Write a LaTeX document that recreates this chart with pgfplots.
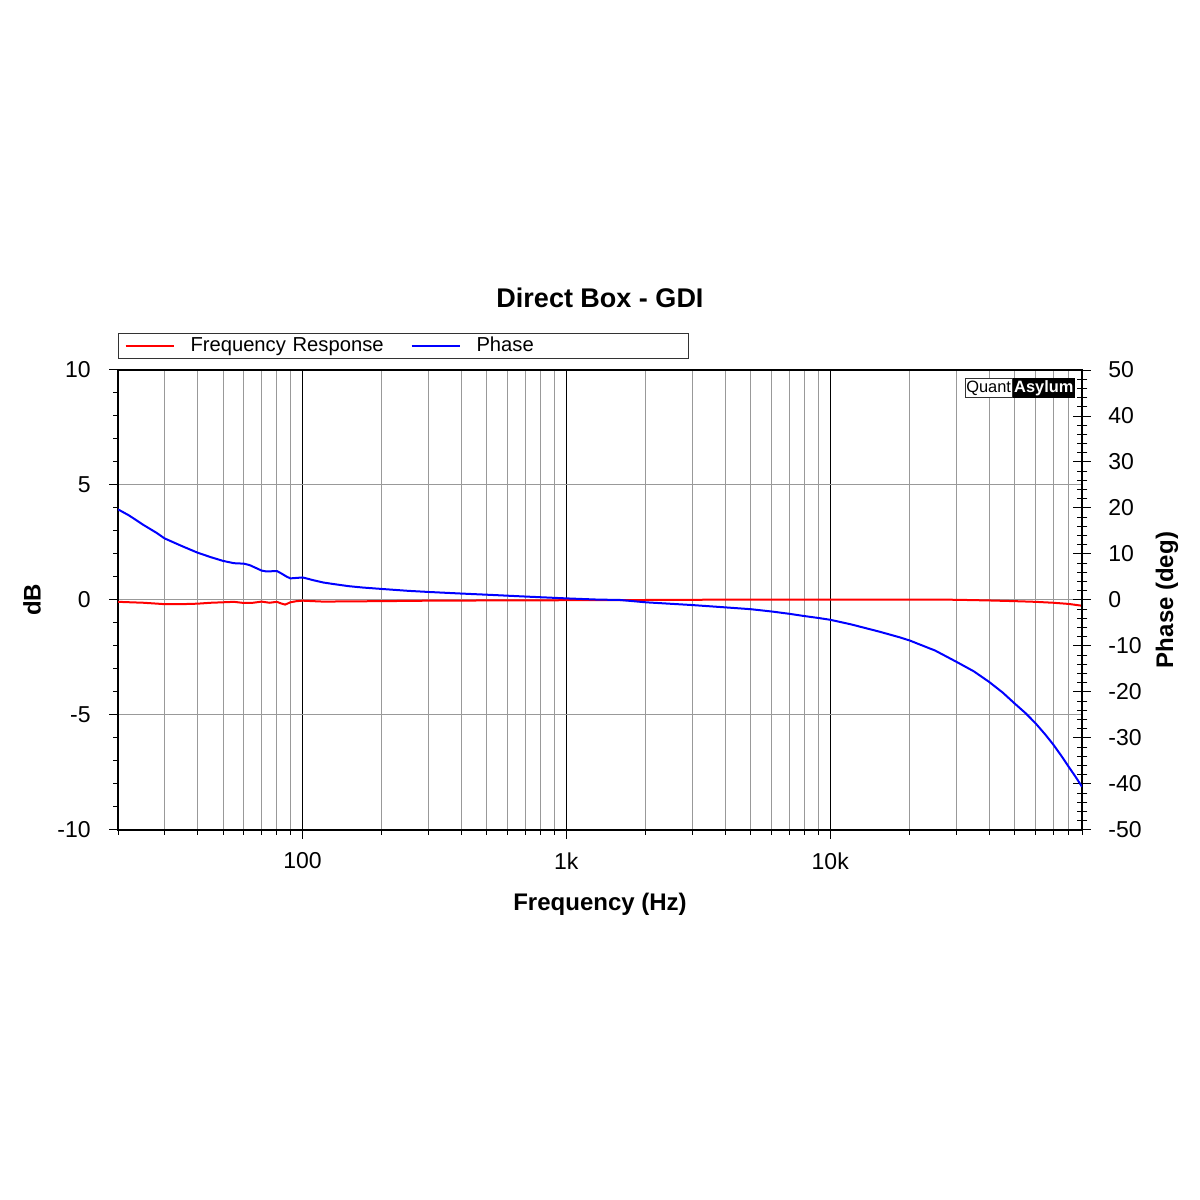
\documentclass[border=0pt]{standalone}
\usepackage{pgfplots}
\pgfplotsset{compat=1.18}
\usepackage{fontspec}
\setmainfont{Liberation Sans}
\begin{document}
\begin{tikzpicture}
\path[use as bounding box] (0,0) rectangle (600pt,600pt);
\begin{axis}[
  at={(59pt,185pt)}, anchor=south west,
  scale only axis, width=482pt, height=230pt,
  xmode=log, xmin=20, xmax=90000,
  ymin=-10, ymax=10,
  xtick={100,1000,10000}, xticklabels={100,1k,10k},
  minor xtick={20,30,40,50,60,70,80,90,200,300,400,500,600,700,800,900,2000,3000,4000,5000,6000,7000,8000,9000,20000,30000,40000,50000,60000,70000,80000,90000},
  ytick={-10,-5,0,5,10},
  minor ytick={-9,-8,-7,-6,-4,-3,-2,-1,1,2,3,4,6,7,8,9},
  xmajorgrids, xminorgrids, ymajorgrids,
  major x grid style={black, line width=0.5pt},
  minor x grid style={black!40, line width=0.5pt},
  major y grid style={black!40, line width=0.5pt},
  xtick pos=lower, ytick pos=left,
  tick align=outside,
  major tick length=4.5pt, minor tick length=2.5pt,
  every tick/.style={black, line width=0.5pt},
  axis line style={line width=0.7pt},
  tick label style={font=\fontsize{11.5}{13}\selectfont},
  /pgf/number format/assume math mode=true,
  yticklabel style={inner xsep=0pt, xshift=-9pt},
  xticklabel style={inner ysep=0pt, yshift=-6.5pt},
  xlabel={Frequency (Hz)}, ylabel={dB},
  label style={font=\fontsize{12}{14}\selectfont\bfseries},
  xlabel style={at={(rel axis cs:0.5,-0.161)}, anchor=center},
  ylabel style={at={(rel axis cs:-0.0892,0.5)}, anchor=center},
  title={Direct Box - GDI},
  title style={at={(rel axis cs:0.5,1.1304)}, anchor=center, font=\fontsize{13.5}{16}\selectfont\bfseries},
]
\addplot[red, line width=1pt] table {
f db
20 -0.08
25 -0.12
30 -0.18
35 -0.18
40 -0.16
45 -0.12
50 -0.10
55 -0.08
60 -0.13
65 -0.12
70 -0.07
75 -0.12
80 -0.08
83 -0.15
86 -0.20
90 -0.10
95 -0.05
100 -0.03
120 -0.07
150 -0.06
200 -0.05
300 -0.03
500 -0.02
1000 -0.01
2000 0.00
5000 0.02
10000 0.02
20000 0.02
30000 0.01
40000 -0.02
50000 -0.05
60000 -0.08
70000 -0.12
80000 -0.17
90000 -0.25
};
\end{axis}
\begin{axis}[
  at={(59pt,185pt)}, anchor=south west,
  scale only axis, width=482pt, height=230pt,
  xmode=log, xmin=20, xmax=90000,
  ymin=-50, ymax=50,
  hide x axis,
  axis y line*=right,
  axis line style={line width=0.7pt},
  ytick={-50,-40,-30,-20,-10,0,10,20,30,40,50},
  minor ytick={-48,-46,-44,-42,-38,-36,-34,-32,-28,-26,-24,-22,-18,-16,-14,-12,-8,-6,-4,-2,2,4,6,8,12,14,16,18,22,24,26,28,32,34,36,38,42,44,46,48},
  tick align=center, major tick length=9pt, minor tick length=5.5pt,
  every tick/.style={black, line width=0.5pt},
  tick label style={font=\fontsize{11.5}{13}\selectfont},
  /pgf/number format/assume math mode=true,
  yticklabel style={inner xsep=0pt, xshift=8.5pt},
  ylabel={Phase (deg)},
  ylabel style={at={(rel axis cs:1.0882,0.5)}, anchor=center, font=\fontsize{12}{14}\selectfont\bfseries},
  legend columns=2,
  legend cell align=left,
  legend image code/.code={\draw[#1] (0pt,0pt) -- (24pt,0pt);},
  legend style={at={(rel axis cs:0,1)}, anchor=south west, yshift=5.5pt, draw=black!80, line width=0.5pt,
    inner xsep=3pt, inner ysep=1.5pt, font=\fontsize{10.1}{12}\selectfont,
    nodes={inner xsep=0pt, inner ysep=0pt, text width=103pt, text height=7.5pt, text depth=2pt, align=left},
    /tikz/every odd column/.append style={column sep=8pt},
    /tikz/every even column/.append style={column sep=7pt}},
]
\addlegendimage{red, line width=1pt}
\addlegendentry{Frequency Response}
\addplot[blue, line width=1pt] table {
f ph
20 19.7
22 18.4
25 16.3
28 14.6
30 13.4
35 11.7
40 10.3
45 9.3
50 8.5
55 8.0
60 7.9
63 7.6
67 6.9
70 6.4
73 6.2
80 6.3
83 5.8
87 5.1
90 4.7
95 4.8
100 4.9
105 4.6
110 4.3
120 3.8
130 3.5
150 3.0
170 2.7
200 2.4
250 2.0
300 1.75
400 1.4
500 1.15
700 0.75
1000 0.35
1300 0.1
1600 0.0
2000 -0.5
3000 -1.1
4000 -1.6
5000 -2.0
6000 -2.5
7000 -3.0
8000 -3.5
9000 -3.9
10000 -4.3
12000 -5.3
15400 -6.9
18300 -8.1
20000 -8.8
25000 -11.0
30000 -13.4
35000 -15.5
40000 -17.8
45000 -20.1
50000 -22.5
55000 -24.6
60000 -26.8
65000 -29.1
70000 -31.4
75000 -33.8
80000 -36.2
85000 -38.4
90000 -40.6
};
\addlegendentry{Phase}
\node[anchor=north east, fill=black, draw=black, text=white, font=\fontsize{8.2}{9}\selectfont\bfseries, inner xsep=0.6pt, inner ysep=0pt, minimum height=9.5pt, text height=6.2pt, text depth=1.8pt] (qa) at (rel axis cs:1,1) [xshift=-3.5pt, yshift=-4pt] {Asylum};
\node[anchor=north east, fill=white, draw=black!80, text=black, font=\fontsize{8.2}{9}\selectfont, inner xsep=0.6pt, inner ysep=0pt, minimum height=9.5pt, text height=6.2pt, text depth=1.8pt] at (qa.north west) {Quant};
\end{axis}
\end{tikzpicture}
\end{document}
